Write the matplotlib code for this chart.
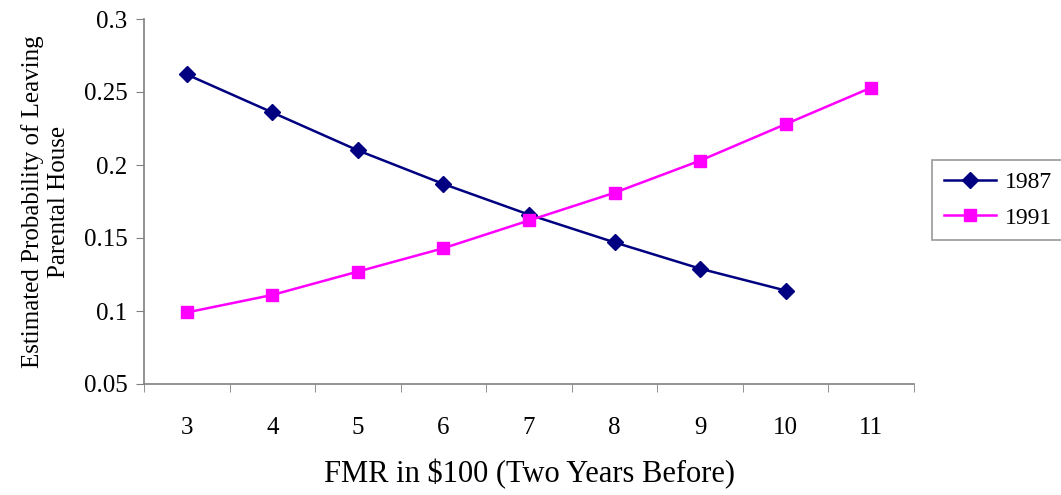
import matplotlib

matplotlib.use("Agg")
import matplotlib.pyplot as plt

# estimated probabilities by FMR (in $100, two years before)
fmr = [3, 4, 5, 6, 7, 8, 9, 10, 11]
p_1987 = [0.262, 0.236, 0.210, 0.187, 0.166, 0.147, 0.129, 0.114]
p_1991 = [0.099, 0.111, 0.127, 0.143, 0.162, 0.181, 0.203, 0.228, 0.253]
yticks = [0.05, 0.1, 0.15, 0.2, 0.25, 0.3]
ytick_labels = ["0.05", "0.1", "0.15", "0.2", "0.25", "0.3"]

plt.rcParams["font.family"] = ["Liberation Serif", "DejaVu Serif"]

fig = plt.figure(figsize=(10.61, 4.95), dpi=100)
ax = fig.add_axes([144 / 1061, 1 - 384 / 495, (914 - 144) / 1061, (384 - 19) / 495])

pos = list(range(len(fmr)))
ax.plot(pos[:len(p_1987)], p_1987, color="#000080", lw=1.8, marker="D", ms=8,
        label="1987")
ax.plot(pos, p_1991, color="#ff00ff", lw=1.8, marker="s", ms=9, label="1991")

ax.set_xlim(-0.5, len(fmr) - 0.5)
ax.set_ylim(0.05, 0.3)
ax.set_yticks(yticks)
ax.set_yticklabels(ytick_labels)
ax.set_xticks(pos)
ax.set_xticklabels([str(v) for v in fmr])
ax.set_xticks([p - 0.5 for p in pos] + [len(fmr) - 0.5], minor=True)
ax.tick_params(axis="x", which="major", length=0, pad=24, labelsize=18)
ax.tick_params(axis="x", which="minor", length=6, color="#808080")
ax.tick_params(axis="y", length=6, color="#808080", labelsize=18, pad=6)

for side in ("top", "right"):
    ax.spines[side].set_visible(False)
for side in ("left", "bottom"):
    ax.spines[side].set_color("#808080")
    ax.spines[side].set_linewidth(1.2)

ax.set_xlabel("FMR in $100 (Two Years Before)", fontsize=22, labelpad=14)
ax.set_ylabel("Estimated Probability of Leaving\nParental House", fontsize=18,
              labelpad=10, linespacing=1.2)

leg = ax.legend(loc="center left", bbox_to_anchor=(932 / 1061, 1 - 200 / 495),
                bbox_transform=fig.transFigure, frameon=True, fancybox=False,
                fontsize=17, handlelength=2.2, handletextpad=0.4,
                borderpad=0.5, borderaxespad=0, labelspacing=0.6)
leg.get_frame().set_edgecolor("#808080")
leg.get_frame().set_linewidth(1.2)

fig.savefig("out.png", dpi=100)
